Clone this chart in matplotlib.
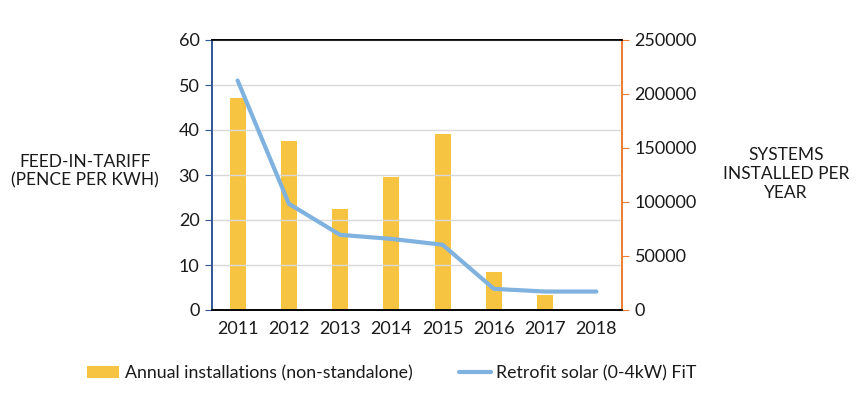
import matplotlib
matplotlib.use("Agg")
import matplotlib.pyplot as plt
import numpy as np

years = ["2011", "2012", "2013", "2014", "2015", "2016", "2017", "2018"]
installations = [196600, 156700, 93800, 123400, 163200, 35500, 14200, 0]
fit_rate = [51.0, 23.6, 16.7, 15.8, 14.5, 4.7, 4.1, 4.1]

plt.rcParams['font.family'] = ['Lato', 'DejaVu Sans']

BAR_COLOR = "#F7C442"
LINE_COLOR = "#7FB2DF"
TEXT_COLOR = "#1A1A1A"

fig = plt.figure(figsize=(8.67, 3.95), dpi=100)
ax = fig.add_axes([212 / 867, 1 - 310 / 395, 410 / 867, 270 / 395])
ax2 = ax.twinx()

x = np.arange(len(years))

# bars on the secondary (right) axis, line on the primary (left) axis
ax2.bar(x, installations, width=0.31, color=BAR_COLOR, zorder=2,
        label="Annual installations (non-standalone)")
ax.plot(x, fit_rate, color=LINE_COLOR, lw=3.0, solid_capstyle="round",
        label="Retrofit solar (0-4kW) FiT", zorder=3)

ax.set_zorder(ax2.get_zorder() + 1)
ax.patch.set_visible(False)

ax.set_xlim(-0.5, len(years) - 0.5)
ax.set_ylim(0, 60)
ax.set_yticks(range(0, 61, 10))
ax2.set_ylim(0, 250000)
ax2.set_yticks(range(0, 250001, 50000))
ax.set_xticks(x)
ax.set_xticklabels(years)

ax.grid(axis="y", color="#D9D9D9", lw=1, zorder=0)
ax.set_axisbelow(True)

for a in (ax, ax2):
    a.spines["top"].set_color("black")
    a.spines["bottom"].set_color("black")
    a.spines["left"].set_color("#2F5597")
    a.spines["right"].set_color("#ED7D31")
    for s in a.spines.values():
        s.set_linewidth(1.2)

ax.tick_params(axis="y", colors="#2F5597", labelcolor=TEXT_COLOR, length=5,
               labelsize=13, pad=4)
ax.tick_params(axis="x", length=0, labelsize=13, labelcolor=TEXT_COLOR, pad=8)
ax2.tick_params(axis="y", colors="#ED7D31", labelcolor=TEXT_COLOR, length=5,
                labelsize=13, pad=4)

fig.text(85 / 867, 1 - 171 / 395, "FEED-IN-TARIFF\n(PENCE PER KWH)",
         ha="center", va="center", fontsize=12.5, color=TEXT_COLOR,
         linespacing=1.2)
fig.text(786 / 867, 1 - 174 / 395, "SYSTEMS\nINSTALLED PER\nYEAR",
         ha="center", va="center", fontsize=12.5, color=TEXT_COLOR,
         linespacing=1.25)

h1, l1 = ax2.get_legend_handles_labels()
h2, l2 = ax.get_legend_handles_labels()
fig.legend(h1 + h2, l1 + l2, loc="center", bbox_to_anchor=(0.452, 1 - 373 / 395),
           ncol=2, frameon=False, fontsize=12.8, handlelength=1.8,
           handletextpad=0.3, columnspacing=2.6, labelcolor=TEXT_COLOR)

fig.savefig("out.png", dpi=100)
